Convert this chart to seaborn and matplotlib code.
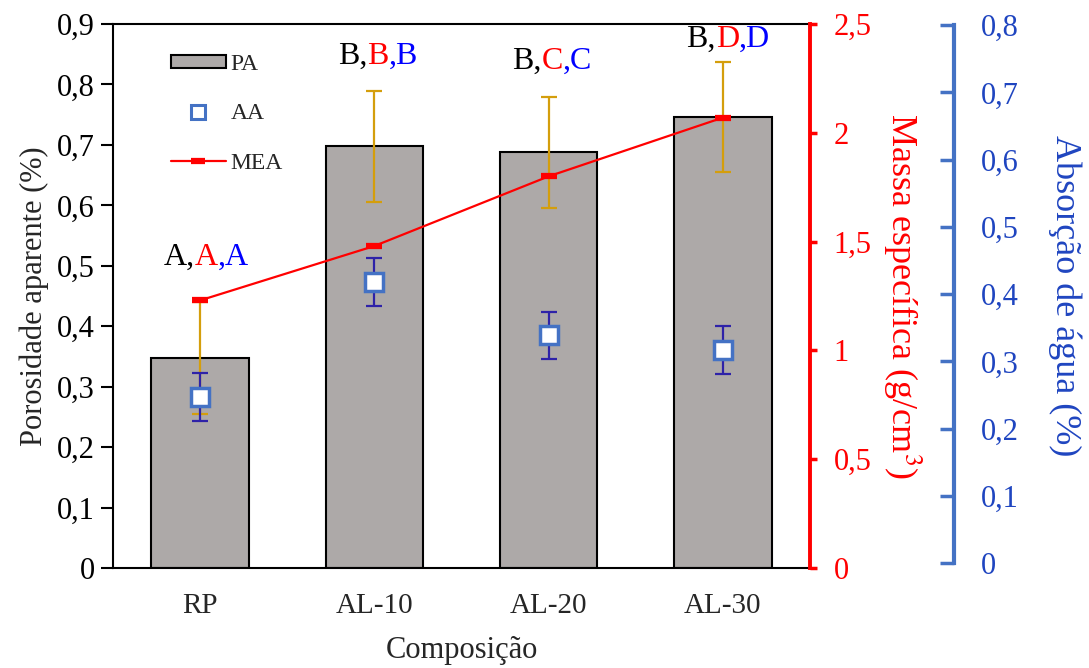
import numpy as np
import matplotlib
matplotlib.use('Agg')
import matplotlib.pyplot as plt
from matplotlib.ticker import FuncFormatter, MultipleLocator
from matplotlib.patches import Patch
from matplotlib.lines import Line2D
import seaborn as sns

# ─── Data ──────────────────────────────────────────────────
categories = ['RP', 'AL-10', 'AL-20', 'AL-30']
pa_mean = [0.347, 0.698, 0.688, 0.746]      # Porosidade aparente (%)
pa_err  = [0.093, 0.092, 0.092, 0.091]
aa_mean = [0.247, 0.418, 0.339, 0.317]      # Absorção de água (%)
aa_err  = [0.036, 0.036, 0.035, 0.035]
mea     = [1.23, 1.48, 1.80, 2.07]          # Massa específica (g/cm3)

# Tukey letters: PA (black), MEA (red), AA (blue)
letters_pa  = ['A', 'B', 'B', 'B']
letters_mea = ['A', 'B', 'C', 'D']
letters_aa  = ['A', 'B', 'C', 'D']
letter_y    = [0.49, 0.822, 0.814, 0.85]

# ─── Style ─────────────────────────────────────────────────
sns.set_style('ticks')
plt.rcParams['font.family'] = ['Liberation Serif', 'DejaVu Serif']
plt.rcParams['mathtext.fontset'] = 'stix'

C_BAR  = '#ADA9A8'
C_PAER = '#D49E0C'
C_RED  = '#FF0000'
C_BLUE = '#4472C4'
C_BLTX = '#1F45C0'
C_AAER = '#2E22A8'

comma = FuncFormatter(lambda v, p: ('%g' % round(v, 3)).replace('.', ','))

fig = plt.figure(figsize=(10.89, 6.68), dpi=100)
ax = fig.add_axes([0.1038, 0.1497, 0.64, 0.8143])
x = np.arange(len(categories))

# PA bars
sns.barplot(x=categories, y=pa_mean, color=C_BAR, saturation=1,
            edgecolor='black', linewidth=1.5, width=0.56,
            errorbar=None, ax=ax, zorder=2)
ax.errorbar(x, pa_mean, yerr=pa_err, fmt='none', ecolor=C_PAER,
            elinewidth=1.6, capsize=6, capthick=1.6, zorder=3)
ax.set_xlim(-0.5, 3.5)
ax.set_ylim(0, 0.9)
ax.yaxis.set_major_locator(MultipleLocator(0.1))
ax.yaxis.set_major_formatter(comma)
ax.set_ylabel('Porosidade aparente (%)', fontsize=22, labelpad=6)
ax.set_xlabel('Composição', fontsize=22, labelpad=12)
ax.tick_params(axis='y', direction='out', length=9, width=1.5,
               labelsize=22, pad=4, colors='black')
ax.tick_params(axis='x', length=0, labelsize=21, pad=18)
for s in ['left', 'bottom', 'top']:
    ax.spines[s].set_linewidth(1.5)
    ax.spines[s].set_color('black')
ax.spines['right'].set_visible(False)

# letters above bars
for i in range(len(categories)):
    t1 = ax.text(x[i] - 0.21, letter_y[i], letters_pa[i] + ',',
                 color='black', fontsize=23, va='bottom', ha='left')
    t2 = ax.annotate(letters_mea[i], xy=(1, 0), xycoords=t1,
                     color=C_RED, fontsize=23, va='bottom', ha='left')
    ax.annotate(',' + letters_aa[i], xy=(1, 0), xycoords=t2,
                color='#0000FF', fontsize=23, va='bottom', ha='left')

# MEA – red axis
ax2 = ax.twinx()
ax2.plot(x, mea, color=C_RED, lw=1.6, marker='_', ms=12, mew=4.5, zorder=4)
ax2.set_ylim(0, 2.5)
ax2.yaxis.set_major_locator(MultipleLocator(0.5))
ax2.yaxis.set_major_formatter(comma)
ax2.set_ylabel('Massa específica (g/cm$^3$)', color=C_RED, fontsize=26,
               rotation=270, labelpad=37)
ax2.tick_params(axis='y', direction='out', length=5, width=2.5,
                colors=C_RED, labelsize=22, pad=12)
for s in ['left', 'top', 'bottom']:
    ax2.spines[s].set_visible(False)
ax2.spines['right'].set_color(C_RED)
ax2.spines['right'].set_linewidth(2.8)

# AA – blue axis
ax3 = ax.twinx()
ax3.errorbar(x, aa_mean, yerr=aa_err, fmt='none', ecolor=C_AAER,
             elinewidth=1.6, capsize=6, capthick=1.6, zorder=3)
ax3.plot(x, aa_mean, ls='none', marker='s', ms=13, mfc='white',
         mec=C_BLUE, mew=2.5, zorder=5)
ax3.set_ylim(-0.007, 0.8015)
ax3.yaxis.set_major_locator(MultipleLocator(0.1))
ax3.yaxis.set_major_formatter(comma)
ax3.spines['right'].set_position(('outward', 104))
ax3.spines['right'].set_bounds(0, 0.8)
ax3.spines['right'].set_color(C_BLUE)
ax3.spines['right'].set_linewidth(3)
for s in ['left', 'top', 'bottom']:
    ax3.spines[s].set_visible(False)
ax3.tick_params(axis='y', direction='in', length=10, width=2.5,
                color=C_BLUE, labelcolor=C_BLTX, labelsize=22, pad=19)
ax3.set_ylabel('Absorção de água (%)', color=C_BLTX, fontsize=26,
               rotation=270, labelpad=45)

# legend
handles = [Patch(facecolor=C_BAR, edgecolor='black', linewidth=1.5),
           Line2D([], [], ls='none', marker='s', ms=10, mfc='white',
                  mec=C_BLUE, mew=2.2),
           Line2D([], [], color=C_RED, lw=1.6, marker='_', ms=10, mew=4.5)]
ax3.legend(handles, ['PA', 'AA', 'MEA'], loc='upper left',
           bbox_to_anchor=(0.07, 0.962), frameon=False, fontsize=17,
           handlelength=2.3, handleheight=0.45, labelspacing=1.2,
           handletextpad=0.2, borderaxespad=0)

fig.savefig('out.png', dpi=100)
